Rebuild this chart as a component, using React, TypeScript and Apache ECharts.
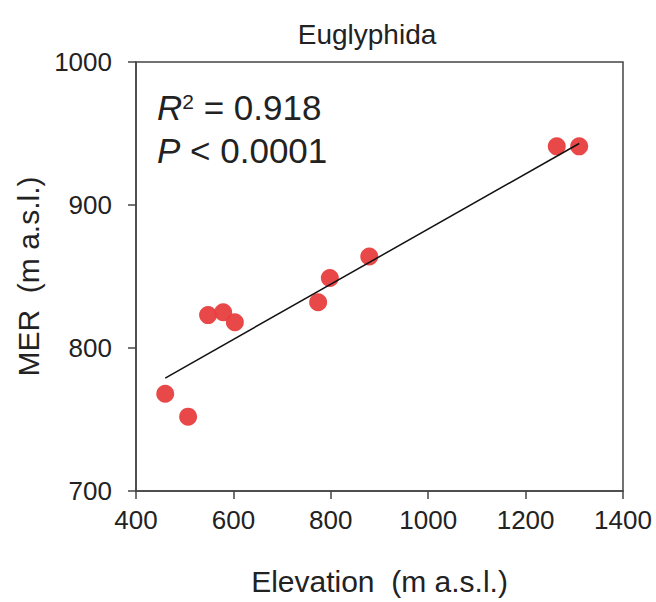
import React, { useEffect, useRef } from "react";
import * as echarts from "echarts";

const elevation = [460, 507, 548, 579, 603, 774, 798, 879, 1264, 1310];
const mer = [768, 752, 823, 825, 818, 832, 849, 864, 941, 941];
const fitX = [460, 1310];
const fitY = [779, 943];
const xTicks = [400, 600, 800, 1000, 1200, 1400];
const yTicks = [700, 800, 900, 1000];

const FONT = "Liberation Sans, Arial, sans-serif";
const NARROW = "Liberation Sans Narrow, Arial Narrow, Liberation Sans, sans-serif";

export default function App() {
  const ref = useRef<HTMLDivElement>(null);
  useEffect(() => {
    if (!ref.current) return;
    const chart = echarts.init(ref.current, null, { renderer: "svg" });
    chart.setOption({
      animation: false,
      backgroundColor: "#ffffff",
      title: {
        text: "Euglyphida",
        left: 362,
        top: 15,
        textAlign: "center",
        textStyle: { fontFamily: FONT, fontSize: 28, fontWeight: "normal", color: "#222" },
      },
      grid: {
        left: 136,
        right: 33,
        top: 62,
        bottom: 111,
        show: true,
        borderColor: "#444",
        borderWidth: 1.5,
      },
      xAxis: {
        type: "value",
        min: xTicks[0],
        max: xTicks[xTicks.length - 1],
        interval: 200,
        name: "Elevation  (m a.s.l.)",
        nameLocation: "middle",
        nameGap: 75,
        nameTextStyle: { fontFamily: FONT, fontSize: 30, color: "#222" },
        axisLine: { show: true, lineStyle: { color: "#444", width: 1.5 } },
        axisTick: { show: true, inside: false, length: 8, lineStyle: { color: "#444", width: 1.5 } },
        axisLabel: {
          fontFamily: NARROW,
          fontSize: 26,
          color: "#222",
          margin: 16,
          formatter: (v: number) => String(v),
        },
        splitLine: { show: false },
      },
      yAxis: {
        type: "value",
        min: yTicks[0],
        max: yTicks[yTicks.length - 1],
        interval: 100,
        name: "MER  (m a.s.l.)",
        nameLocation: "middle",
        nameGap: 92,
        nameTextStyle: { fontFamily: FONT, fontSize: 30, color: "#222" },
        axisLine: { show: true, lineStyle: { color: "#444", width: 1.5 } },
        axisTick: { show: true, inside: false, length: 8, lineStyle: { color: "#444", width: 1.5 } },
        axisLabel: {
          fontFamily: FONT,
          fontSize: 26,
          color: "#222",
          margin: 24,
          formatter: (v: number) => String(v),
        },
        splitLine: { show: false },
      },
      series: [
        {
          type: "scatter",
          data: elevation.map((x, i) => [x, mer[i]]),
          symbolSize: 18,
          itemStyle: { color: "#E83E3E", opacity: 0.95 },
          z: 2,
        },
        {
          type: "line",
          data: fitX.map((x, i) => [x, fitY[i]]),
          showSymbol: false,
          symbol: "none",
          lineStyle: { color: "#111", width: 1.5 },
          z: 3,
        },
      ],
      graphic: [
        {
          type: "text",
          left: 157,
          top: 86,
          style: {
            text: "{i|R}{s|2} = 0.918\n{i|P} < 0.0001",
            fontFamily: FONT,
            fontSize: 35,
            fill: "#222",
            lineHeight: 43,
            rich: {
              i: { fontStyle: "italic", fontFamily: FONT, fontSize: 35, fill: "#222", lineHeight: 43 },
              s: { fontFamily: FONT, fontSize: 21, verticalAlign: "top", fill: "#222", lineHeight: 21, padding: [5, 0, 0, 0] },
            },
          },
        },
      ],
    });
    return () => chart.dispose();
  }, []);
  return (
    <div
      ref={ref}
      style={{ position: "fixed", left: 0, top: 0, width: 656, height: 602 }}
    />
  );
}
